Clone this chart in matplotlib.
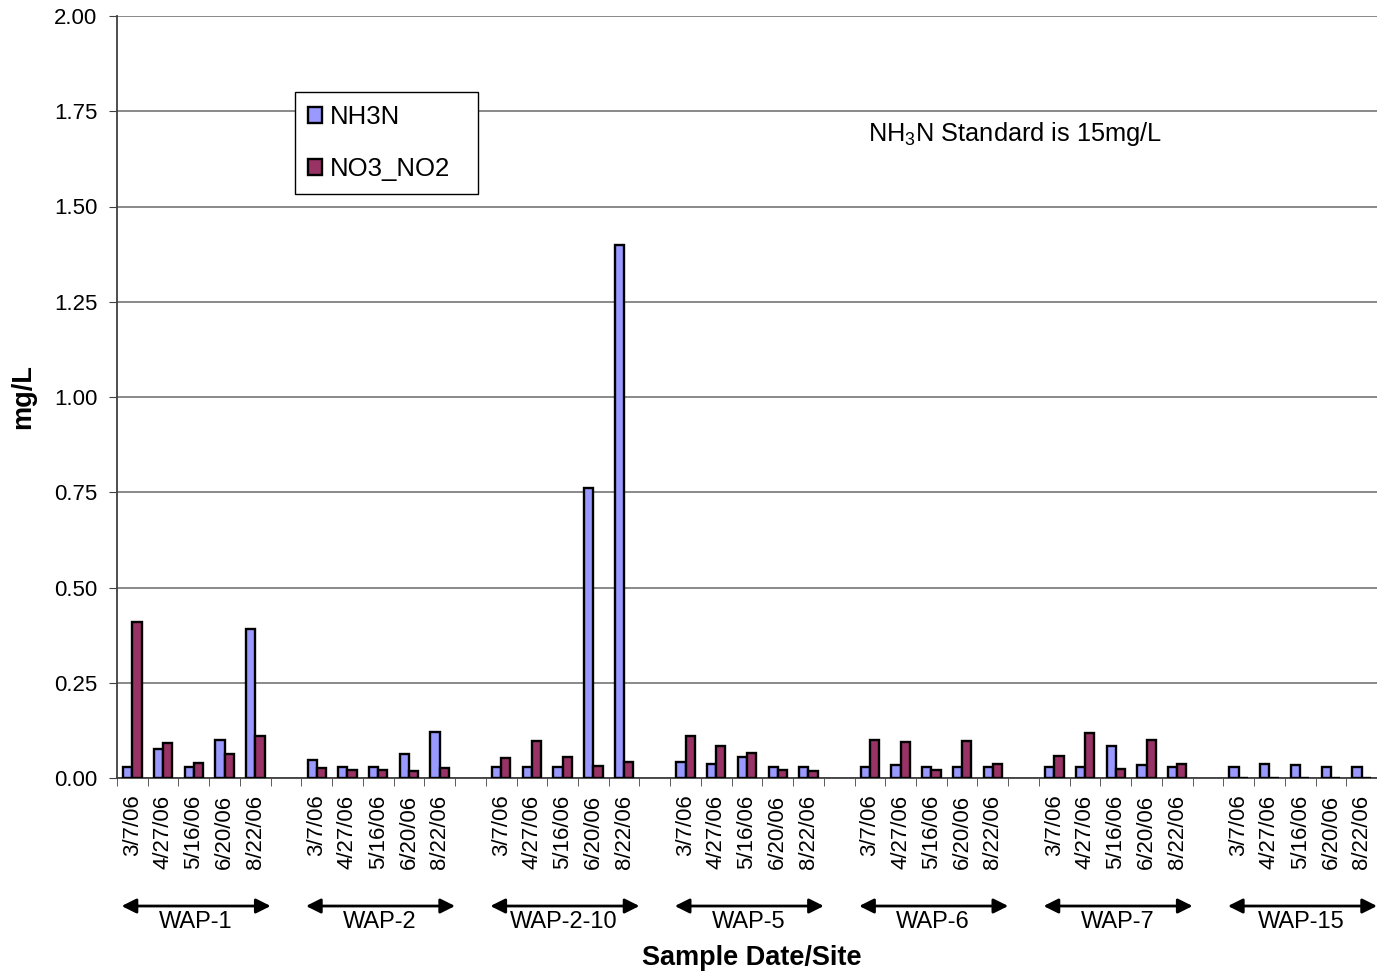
import matplotlib
matplotlib.use("Agg")
import matplotlib.pyplot as plt
import numpy as np

plt.rcParams["font.family"] = ["Liberation Sans", "DejaVu Sans"]

sites = ["WAP-1", "WAP-2", "WAP-2-10", "WAP-5", "WAP-6", "WAP-7", "WAP-15"]
dates = ["3/7/06", "4/27/06", "5/16/06", "6/20/06", "8/22/06"]

# one row per site, one column per date
nh3n = [
    [0.028, 0.076, 0.028, 0.100, 0.390],
    [0.046, 0.028, 0.028, 0.064, 0.120],
    [0.028, 0.028, 0.028, 0.760, 1.400],
    [0.043, 0.037, 0.055, 0.028, 0.028],
    [0.028, 0.033, 0.028, 0.028, 0.028],
    [0.028, 0.028, 0.084, 0.034, 0.028],
    [0.028, 0.037, 0.033, 0.028, 0.028],
]
no3_no2 = [
    [0.410, 0.093, 0.040, 0.064, 0.110],
    [0.026, 0.022, 0.020, 0.018, 0.026],
    [0.052, 0.097, 0.055, 0.032, 0.042],
    [0.110, 0.083, 0.066, 0.020, 0.019],
    [0.099, 0.094, 0.021, 0.098, 0.037],
    [0.058, 0.118, 0.024, 0.099, 0.037],
    [0.0, 0.0, 0.0, 0.0, 0.0],
]

FS = 16
c_nh3 = "#9999FF"
c_no3 = "#993366"

fig = plt.figure(figsize=(13.77, 9.74), dpi=100)
ax = fig.add_axes([117 / 1377, 196 / 974, 1260 / 1377, 762 / 974])

# each site takes 5 slots plus one empty slot as a spacer
n_slots = len(sites) * 6 - 1
xpos = []
labels = []
for g in range(len(sites)):
    for d in range(len(dates)):
        xpos.append(g * 6 + d)
        labels.append(dates[d])
xpos = np.array(xpos)
v1 = np.array(nh3n).ravel()
v2 = np.array(no3_no2).ravel()

w = 0.3
ax.bar(xpos - w / 2, v1, w, color=c_nh3, edgecolor="black", linewidth=1.7,
       label="NH3N", zorder=3)
ax.bar(xpos + w / 2, v2, w, color=c_no3, edgecolor="black", linewidth=1.7,
       label="NO3_NO2", zorder=3)

ax.set_xlim(-0.5, n_slots - 0.5)
ax.set_ylim(0, 2.0)
ax.set_yticks(np.arange(0, 2.01, 0.25))
ax.set_yticklabels([f"{t:.2f}" for t in np.arange(0, 2.01, 0.25)], fontsize=FS)
ax.yaxis.grid(True, color="#808080", linewidth=1.3, zorder=0)
ax.set_axisbelow(True)

ax.set_xticks(xpos)
ax.set_xticklabels(labels, rotation=90, fontsize=FS)
ax.set_xticks(np.arange(-0.5, n_slots, 1), minor=True)
ax.tick_params(axis="x", which="major", length=0, pad=12)
ax.tick_params(axis="x", which="minor", length=6, color="#404040")
ax.tick_params(axis="y", length=6, pad=8, color="#404040")

for s in ["top", "right"]:
    ax.spines[s].set_visible(False)
for s in ["left", "bottom"]:
    ax.spines[s].set_color("#404040")
    ax.spines[s].set_linewidth(1.3)

# site arrows under the date labels
trans = ax.get_xaxis_transform()
for g, site in enumerate(sites):
    c = g * 6 + 2
    ax.annotate("", xy=(c + 2.5, -0.168), xytext=(c - 2.35, -0.168),
                xycoords=trans, textcoords=trans, annotation_clip=False,
                arrowprops=dict(arrowstyle="<|-|>", color="black", lw=2,
                                mutation_scale=22, shrinkA=0, shrinkB=0))
    ax.text(c + 0.05, -0.189, site, transform=trans, ha="center", va="center",
            fontsize=17)

ax.set_xlabel("Sample Date/Site", fontsize=19.5, fontweight="bold")
ax.xaxis.set_label_coords(0.504, -0.219)
ax.set_ylabel("mg/L", fontsize=19.5, fontweight="bold")
ax.yaxis.set_label_coords(-0.064, 0.5)

ax.text(23.95, 1.69, r"NH$_\mathregular{3}$N Standard is 15mg/L",
        fontsize=18.3, va="center", ha="left")

leg = ax.legend(loc="upper left", bbox_to_anchor=(0.1413, 0.70, 0.1452, 0.20),
                mode="expand", fontsize=18.5, frameon=True, fancybox=False,
                shadow=False, handlelength=0.55, handleheight=0.55,
                handletextpad=0.3, labelspacing=1.1, borderpad=0.5,
                borderaxespad=0)
leg.get_frame().set_edgecolor("black")
leg.get_frame().set_linewidth(1.0)
leg.get_frame().set_alpha(1)

fig.savefig("out.png", dpi=100)
